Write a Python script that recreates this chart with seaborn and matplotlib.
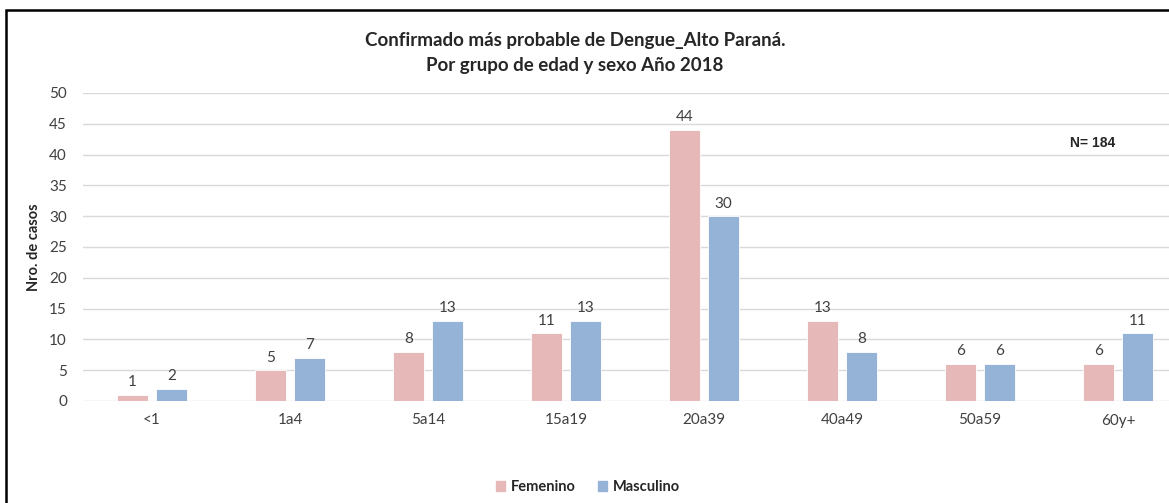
import numpy as np
import pandas as pd
import matplotlib
matplotlib.use("Agg")
import matplotlib.pyplot as plt
import seaborn as sns
from matplotlib.patches import Rectangle

# =========================
# DATA
# =========================

grupos = ['<1', '1a4', '5a14', '15a19', '20a39', '40a49', '50a59', '60y+']
femenino = [1, 5, 8, 11, 44, 13, 6, 6]
masculino = [2, 7, 13, 13, 30, 8, 6, 11]
sexos = ['Femenino', 'Masculino']
colores = ['#E6B9B8', '#95B3D7']

df = pd.DataFrame({
    'Grupo': grupos * 2,
    'Sexo': [sexos[0]] * len(grupos) + [sexos[1]] * len(grupos),
    'Casos': femenino + masculino
})

# =========================
# STYLE
# =========================

sns.set_style("white")
plt.rcParams['font.family'] = ['Lato', 'DejaVu Sans']

W, H = 1169, 503
fig = plt.figure(figsize=(W / 100, H / 100), dpi=100)

# axes in pixel coords: left 83, right 1187 (chart is cropped), y0=401, y50=93
ax = fig.add_axes([83 / W, 1 - 401 / H, (1187 - 83) / W, (401 - 93) / H])

sns.barplot(
    data=df,
    x='Grupo',
    y='Casos',
    hue='Sexo',
    palette=colores,
    saturation=1,
    width=0.56,
    gap=0.21,
    edgecolor='white',
    linewidth=0.6,
    ax=ax
)

ax.set_ylim(0, 50)
ax.set_xlim(-0.5, len(grupos) - 0.5)
ax.set_yticks(range(0, 51, 5))
ax.grid(axis='y', color='#D9D9D9', linewidth=1)
ax.set_axisbelow(True)
for s in ['top', 'right', 'left', 'bottom']:
    ax.spines[s].set_visible(False)
ax.tick_params(axis='both', length=0, labelsize=11, colors='#404040')
ax.tick_params(axis='y', pad=11.5)
ax.tick_params(axis='x', pad=9)

ax.set_xlabel('')
ax.set_ylabel('Nro. de casos', fontsize=10.5, fontweight='bold', labelpad=6)

# value labels
for cont in ax.containers:
    ax.bar_label(cont, labels=[f'{int(v)}' for v in cont.datavalues],
                 padding=4, fontsize=11, color='#404040')

ax.legend_.remove()

# =========================
# TEXTS
# =========================

fig.text(575 / W, 1 - 53 / H,
         'Confirmado más probable de Dengue_Alto Paraná.\nPor grupo de edad y sexo Año 2018',
         ha='center', va='center', fontsize=13.5, fontweight='bold',
         linespacing=1.55)

fig.text(1093 / W, 1 - 143 / H, 'N= 184', ha='center', va='center',
         fontsize=10, fontweight='bold', family=['Liberation Sans', 'DejaVu Sans'])

handles = [Rectangle((0, 0), 1, 1, color=c) for c in colores]
fig.legend(handles, sexos, loc='center', bbox_to_anchor=(588 / W, 1 - 487 / H),
           ncol=2, frameon=False, handlelength=0.65,
           handleheight=0.65, handletextpad=0.4, columnspacing=1.5,
           prop={'weight': 'bold', 'size': 10.5})

# frame around chart
fig.add_artist(Rectangle((6 / W, -0.1), 1.2, 1 - 10 / H + 0.1,
                         transform=fig.transFigure, fill=False,
                         edgecolor='black', linewidth=1.8))

plt.savefig('out.png', dpi=100)
